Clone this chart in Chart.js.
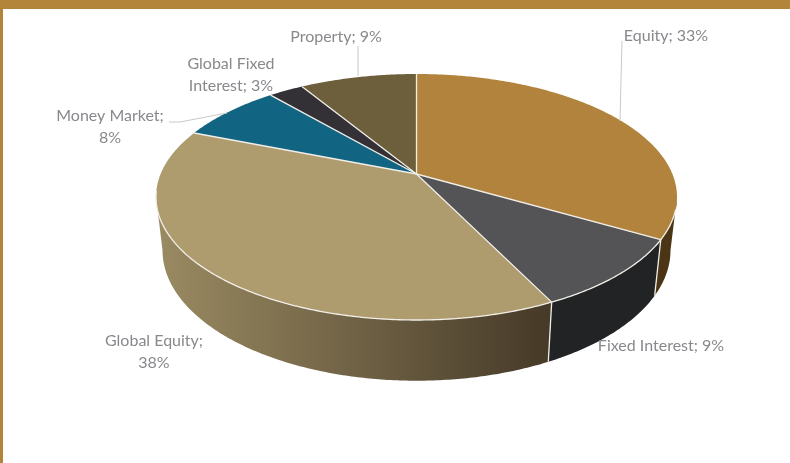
<!DOCTYPE html>
<html>
<head>
<meta charset="utf-8">
<script src="https://cdn.jsdelivr.net/npm/chart.js@4/dist/chart.umd.js"></script>
<style>
  html, body { margin: 0; padding: 0; background: #fff; overflow: hidden; }
  #wrap { position: relative; width: 790px; height: 463px; }
  #bar { position: absolute; left: 0; top: 0; width: 790px; height: 9px; background: #b3853b; }
  #edge { position: absolute; left: 0; top: 0; width: 3px; height: 463px; background: #b3853b; }
  canvas { position: absolute; left: 0; top: 0; }
</style>
</head>
<body>
<div id="wrap">
  <div id="bar"></div>
  <div id="edge"></div>
  <canvas id="pie" width="790" height="463"></canvas>
</div>
<script>
const categories = ['Equity', 'Fixed Interest', 'Global Equity', 'Money Market', 'Global Fixed Interest', 'Property'];
const shares = [33.4, 9.4, 38.3, 7.7, 2.6, 8.7];
const sliceColors = ['#b2833c', '#545456', '#ae9b6e', '#126582', '#333136', '#6d5f3c'];
const wallColors = ['#4b3515', '#222325', null, '#0b4052', '#222024', '#463c26'];

// label text lines, the position is the centre of the line block
const labelLines = [['Equity; '], ['Fixed Interest; '], ['Global Equity;', ''], ['Money Market;', ''], ['Global Fixed', 'Interest; '], ['Property; ']];
const labelSpots = [[666, 36], [661, 346], [154, 352], [110, 127], [231, 75], [336, 37]];
const leaders = [
  [[622, 41], [620, 121]],
  [[358, 46], [358, 76]],
  [[169, 122], [180, 122], [227, 113]]
];

// the top face and the floor of the disc are the same circle seen in perspective
const persp = 0.187;
const topFace = { x: 416.5, y: 174, a: 255.9, b: 118.7 };
const floorFace = { x: 416.5, y: 226, a: 249.5, b: 125.8 };
// the wall is only seen between these two angles
const wallFrom = Math.asin(persp);
const wallTo = Math.PI - wallFrom;

function project(face, angle) {
  const u = Math.cos(angle), v = Math.sin(angle);
  const k = 1 / (1 - persp * v);
  return [face.x + face.a * u * k, face.y + face.b * v * k];
}

function arcPoints(face, start, end) {
  const steps = Math.max(2, Math.ceil((end - start) / 0.01));
  const pts = [];
  for (let i = 0; i <= steps; i++) pts.push(project(face, start + (end - start) * i / steps));
  return pts;
}

function trace(ctx, pts) {
  pts.forEach((p, i) => i ? ctx.lineTo(p[0], p[1]) : ctx.moveTo(p[0], p[1]));
}

// slice outline: centre, then along the rim
function sliceOutline(ctx, arc) {
  ctx.beginPath();
  ctx.moveTo(topFace.x, topFace.y);
  arcPoints(topFace, arc.startAngle, arc.endAngle).forEach(p => ctx.lineTo(p[0], p[1]));
  ctx.closePath();
}

const tiltedPie = {
  id: 'tiltedPie',
  beforeDatasetDraw(chart) {
    const ctx = chart.ctx;
    const arcs = chart.getDatasetMeta(0).data;
    const rim = '#f1eee8';

    // side wall, only the front part
    arcs.forEach((arc, i) => {
      const start = Math.max(arc.startAngle, wallFrom);
      const end = Math.min(arc.endAngle, wallTo);
      if (end <= start) return;
      const upper = arcPoints(topFace, start, end);
      const lower = arcPoints(floorFace, start, end).reverse();
      ctx.beginPath();
      trace(ctx, upper.concat(lower));
      ctx.closePath();
      if (wallColors[i]) {
        ctx.fillStyle = wallColors[i];
      } else {
        const g = ctx.createLinearGradient(160, 0, 548, 0);
        g.addColorStop(0, '#9a8a62');
        g.addColorStop(1, '#463a28');
        ctx.fillStyle = g;
      }
      ctx.fill();
    });

    // wall seams at the visible slice edges
    ctx.strokeStyle = rim;
    ctx.lineWidth = 1.3;
    arcs.forEach(arc => {
      const a = arc.endAngle;
      if (a > wallFrom && a < wallTo) {
        const p = project(topFace, a), q = project(floorFace, a);
        ctx.beginPath();
        ctx.moveTo(p[0], p[1]);
        ctx.lineTo(q[0], q[1]);
        ctx.stroke();
      }
    });

    // top face
    arcs.forEach(arc => {
      sliceOutline(ctx, arc);
      ctx.fillStyle = arc.options.backgroundColor;
      ctx.fill();
    });

    // spokes, and the rim along the front only
    ctx.strokeStyle = rim;
    ctx.lineWidth = 1.3;
    ctx.lineJoin = 'round';
    arcs.forEach(arc => {
      const p = project(topFace, arc.startAngle);
      ctx.beginPath();
      ctx.moveTo(topFace.x, topFace.y);
      ctx.lineTo(p[0], p[1]);
      ctx.stroke();
    });
    ctx.beginPath();
    trace(ctx, arcPoints(topFace, wallFrom + 0.1, wallTo + 0.05));
    ctx.stroke();
    return false;
  },
  afterDatasetsDraw(chart) {
    const ctx = chart.ctx;
    ctx.save();
    ctx.strokeStyle = '#c9c9c9';
    ctx.lineWidth = 1;
    leaders.forEach(line => {
      ctx.beginPath();
      trace(ctx, line);
      ctx.stroke();
    });
    ctx.fillStyle = '#88898c';
    ctx.font = '16px Lato';
    ctx.textAlign = 'center';
    ctx.textBaseline = 'middle';
    const lineGap = 22;
    categories.forEach((name, i) => {
      const pct = Math.round(shares[i]) + '%';
      const lines = labelLines[i].map((t, j) => j === labelLines[i].length - 1 ? t + pct : t);
      const top = labelSpots[i][1] - (lines.length - 1) * lineGap / 2;
      lines.forEach((t, j) => ctx.fillText(t, labelSpots[i][0], top + j * lineGap));
    });
    ctx.restore();
  }
};

new Chart(document.getElementById('pie'), {
  type: 'pie',
  data: {
    labels: categories,
    datasets: [{ data: shares, backgroundColor: sliceColors }]
  },
  options: {
    responsive: false,
    animation: false,
    plugins: { legend: { display: false }, tooltip: { enabled: false } }
  },
  plugins: [tiltedPie]
});
</script>
</body>
</html>
